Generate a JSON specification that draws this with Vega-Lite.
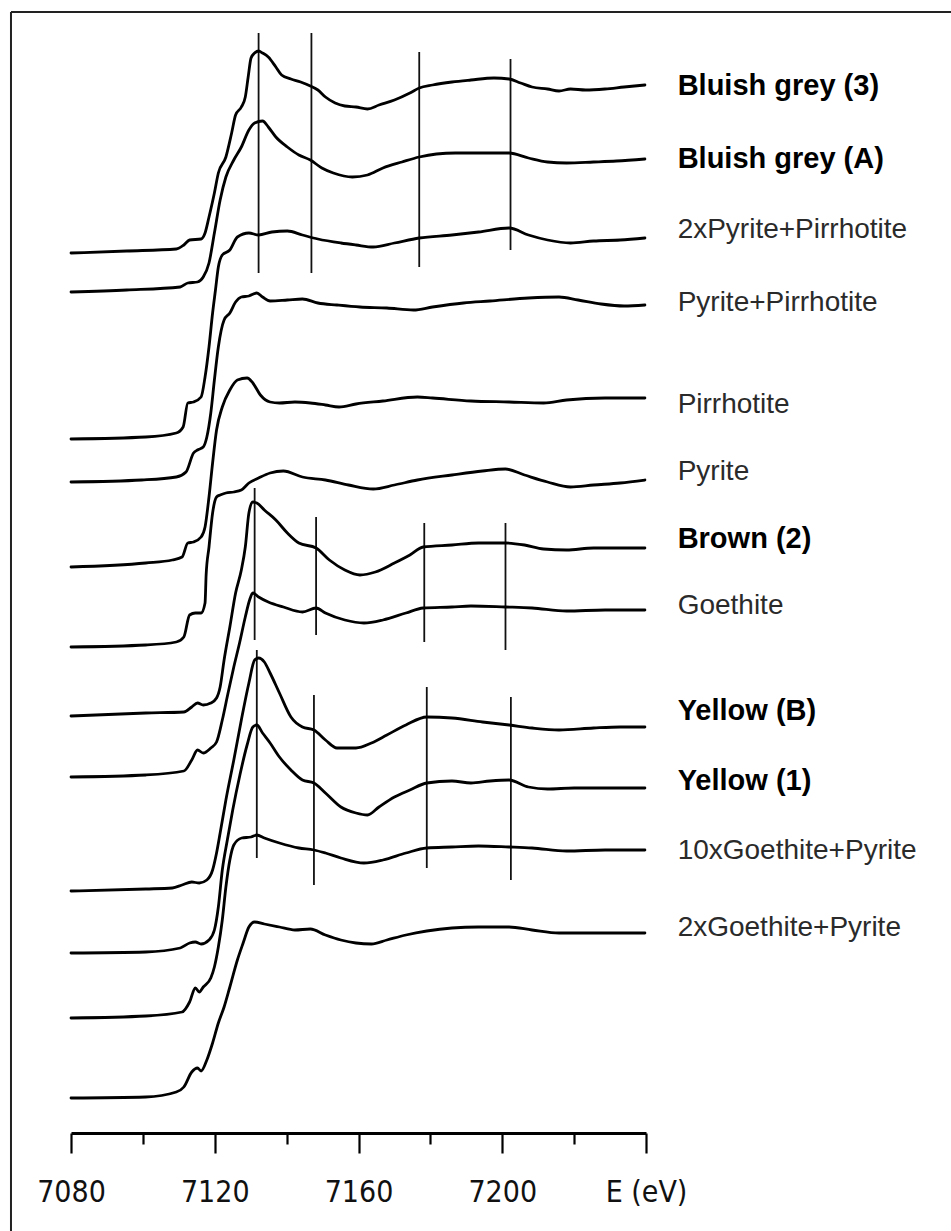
{
  "$schema": "https://vega.github.io/schema/vega-lite/v6.json",
  "autosize": {"type": "none"},
  "width": 575,
  "height": 1100,
  "padding": {"left": 71, "top": 33, "right": 305, "bottom": 98},
  "background": "white",
  "config": {"view": {"stroke": null}},
  "datasets": {
    "curves": [
      {"s":"BG3","E":7080.0,"A":8.80},{"s":"BG3","E":7095.5,"A":8.82},{"s":"BG3","E":7109.3,"A":8.84},{"s":"BG3","E":7111.4,"A":8.88},{"s":"BG3","E":7113.0,"A":8.93},{"s":"BG3","E":7116.2,"A":8.94},{"s":"BG3","E":7117.3,"A":9.00},{"s":"BG3","E":7118.4,"A":9.16},{"s":"BG3","E":7119.9,"A":9.40},{"s":"BG3","E":7121.0,"A":9.60},{"s":"BG3","E":7123.1,"A":9.76},{"s":"BG3","E":7124.7,"A":10.00},{"s":"BG3","E":7125.8,"A":10.18},{"s":"BG3","E":7127.4,"A":10.26},{"s":"BG3","E":7128.5,"A":10.36},{"s":"BG3","E":7129.3,"A":10.56},{"s":"BG3","E":7130.1,"A":10.75},{"s":"BG3","E":7131.1,"A":10.80},{"s":"BG3","E":7132.2,"A":10.82},{"s":"BG3","E":7133.3,"A":10.80},{"s":"BG3","E":7134.9,"A":10.76},{"s":"BG3","E":7137.0,"A":10.66},{"s":"BG3","E":7138.6,"A":10.58},{"s":"BG3","E":7141.2,"A":10.54},{"s":"BG3","E":7143.9,"A":10.51},{"s":"BG3","E":7146.6,"A":10.47},{"s":"BG3","E":7148.7,"A":10.43},{"s":"BG3","E":7150.8,"A":10.36},{"s":"BG3","E":7153.5,"A":10.30},{"s":"BG3","E":7156.2,"A":10.27},{"s":"BG3","E":7159.3,"A":10.26},{"s":"BG3","E":7162.5,"A":10.24},{"s":"BG3","E":7165.7,"A":10.28},{"s":"BG3","E":7170.0,"A":10.33},{"s":"BG3","E":7174.3,"A":10.40},{"s":"BG3","E":7176.9,"A":10.45},{"s":"BG3","E":7180.6,"A":10.48},{"s":"BG3","E":7186.0,"A":10.51},{"s":"BG3","E":7191.3,"A":10.53},{"s":"BG3","E":7197.7,"A":10.55},{"s":"BG3","E":7201.9,"A":10.54},{"s":"BG3","E":7205.1,"A":10.50},{"s":"BG3","E":7208.3,"A":10.46},{"s":"BG3","E":7212.6,"A":10.44},{"s":"BG3","E":7215.8,"A":10.42},{"s":"BG3","E":7219.0,"A":10.44},{"s":"BG3","E":7223.2,"A":10.43},{"s":"BG3","E":7228.6,"A":10.44},{"s":"BG3","E":7233.9,"A":10.46},{"s":"BG3","E":7239.7,"A":10.48},
      {"s":"BGA","E":7080.0,"A":8.41},{"s":"BGA","E":7095.5,"A":8.43},{"s":"BGA","E":7110.4,"A":8.46},{"s":"BGA","E":7112.5,"A":8.50},{"s":"BGA","E":7115.2,"A":8.51},{"s":"BGA","E":7116.8,"A":8.56},{"s":"BGA","E":7118.4,"A":8.70},{"s":"BGA","E":7119.9,"A":9.00},{"s":"BGA","E":7121.5,"A":9.33},{"s":"BGA","E":7123.1,"A":9.56},{"s":"BGA","E":7125.3,"A":9.73},{"s":"BGA","E":7127.4,"A":9.86},{"s":"BGA","E":7129.5,"A":10.03},{"s":"BGA","E":7131.1,"A":10.10},{"s":"BGA","E":7133.3,"A":10.12},{"s":"BGA","E":7134.9,"A":10.06},{"s":"BGA","E":7137.0,"A":9.96},{"s":"BGA","E":7140.2,"A":9.86},{"s":"BGA","E":7143.4,"A":9.78},{"s":"BGA","E":7146.6,"A":9.73},{"s":"BGA","E":7149.8,"A":9.65},{"s":"BGA","E":7153.0,"A":9.60},{"s":"BGA","E":7158.3,"A":9.56},{"s":"BGA","E":7162.5,"A":9.58},{"s":"BGA","E":7166.8,"A":9.65},{"s":"BGA","E":7172.1,"A":9.71},{"s":"BGA","E":7176.9,"A":9.76},{"s":"BGA","E":7181.7,"A":9.79},{"s":"BGA","E":7187.0,"A":9.80},{"s":"BGA","E":7193.4,"A":9.80},{"s":"BGA","E":7201.9,"A":9.80},{"s":"BGA","E":7207.3,"A":9.75},{"s":"BGA","E":7212.6,"A":9.71},{"s":"BGA","E":7217.9,"A":9.70},{"s":"BGA","E":7225.4,"A":9.71},{"s":"BGA","E":7231.8,"A":9.72},{"s":"BGA","E":7239.7,"A":9.74},
      {"s":"P2PI","E":7080.0,"A":6.94},{"s":"P2PI","E":7100.8,"A":6.96},{"s":"P2PI","E":7109.3,"A":7.00},{"s":"P2PI","E":7111.2,"A":7.06},{"s":"P2PI","E":7112.5,"A":7.30},{"s":"P2PI","E":7114.1,"A":7.31},{"s":"P2PI","E":7116.2,"A":7.36},{"s":"P2PI","E":7117.3,"A":7.56},{"s":"P2PI","E":7118.4,"A":7.86},{"s":"P2PI","E":7119.4,"A":8.20},{"s":"P2PI","E":7120.2,"A":8.43},{"s":"P2PI","E":7121.0,"A":8.66},{"s":"P2PI","E":7122.1,"A":8.78},{"s":"P2PI","E":7124.2,"A":8.83},{"s":"P2PI","E":7126.3,"A":8.96},{"s":"P2PI","E":7129.5,"A":9.00},{"s":"P2PI","E":7132.2,"A":8.98},{"s":"P2PI","E":7135.9,"A":9.01},{"s":"P2PI","E":7140.2,"A":9.02},{"s":"P2PI","E":7144.4,"A":8.98},{"s":"P2PI","E":7148.7,"A":8.94},{"s":"P2PI","E":7155.1,"A":8.90},{"s":"P2PI","E":7159.3,"A":8.88},{"s":"P2PI","E":7164.1,"A":8.86},{"s":"P2PI","E":7170.0,"A":8.90},{"s":"P2PI","E":7176.9,"A":8.95},{"s":"P2PI","E":7186.0,"A":8.98},{"s":"P2PI","E":7193.4,"A":9.01},{"s":"P2PI","E":7201.9,"A":9.05},{"s":"P2PI","E":7207.3,"A":8.98},{"s":"P2PI","E":7212.6,"A":8.93},{"s":"P2PI","E":7219.0,"A":8.90},{"s":"P2PI","E":7225.4,"A":8.92},{"s":"P2PI","E":7232.8,"A":8.93},{"s":"P2PI","E":7239.7,"A":8.95},
      {"s":"PPI","E":7080.0,"A":6.51},{"s":"PPI","E":7099.7,"A":6.53},{"s":"PPI","E":7109.3,"A":6.56},{"s":"PPI","E":7112.0,"A":6.61},{"s":"PPI","E":7114.1,"A":6.80},{"s":"PPI","E":7115.2,"A":6.83},{"s":"PPI","E":7116.8,"A":6.86},{"s":"PPI","E":7117.8,"A":6.96},{"s":"PPI","E":7118.9,"A":7.20},{"s":"PPI","E":7119.9,"A":7.53},{"s":"PPI","E":7121.0,"A":7.86},{"s":"PPI","E":7122.6,"A":8.13},{"s":"PPI","E":7124.2,"A":8.20},{"s":"PPI","E":7125.8,"A":8.31},{"s":"PPI","E":7127.4,"A":8.36},{"s":"PPI","E":7129.5,"A":8.37},{"s":"PPI","E":7131.7,"A":8.40},{"s":"PPI","E":7133.3,"A":8.36},{"s":"PPI","E":7135.4,"A":8.32},{"s":"PPI","E":7140.2,"A":8.33},{"s":"PPI","E":7144.4,"A":8.34},{"s":"PPI","E":7148.7,"A":8.30},{"s":"PPI","E":7154.0,"A":8.28},{"s":"PPI","E":7160.4,"A":8.26},{"s":"PPI","E":7167.9,"A":8.25},{"s":"PPI","E":7175.3,"A":8.23},{"s":"PPI","E":7180.6,"A":8.26},{"s":"PPI","E":7189.2,"A":8.30},{"s":"PPI","E":7196.6,"A":8.32},{"s":"PPI","E":7207.3,"A":8.35},{"s":"PPI","E":7215.8,"A":8.36},{"s":"PPI","E":7221.1,"A":8.33},{"s":"PPI","E":7227.5,"A":8.29},{"s":"PPI","E":7233.9,"A":8.27},{"s":"PPI","E":7239.7,"A":8.28},
      {"s":"PI","E":7080.0,"A":5.66},{"s":"PI","E":7100.8,"A":5.70},{"s":"PI","E":7108.2,"A":5.73},{"s":"PI","E":7110.9,"A":5.76},{"s":"PI","E":7112.5,"A":5.90},{"s":"PI","E":7114.1,"A":5.91},{"s":"PI","E":7116.2,"A":5.96},{"s":"PI","E":7117.3,"A":6.06},{"s":"PI","E":7118.4,"A":6.36},{"s":"PI","E":7119.4,"A":6.70},{"s":"PI","E":7120.5,"A":7.03},{"s":"PI","E":7122.1,"A":7.26},{"s":"PI","E":7124.2,"A":7.43},{"s":"PI","E":7126.3,"A":7.53},{"s":"PI","E":7129.0,"A":7.55},{"s":"PI","E":7130.6,"A":7.50},{"s":"PI","E":7132.7,"A":7.38},{"s":"PI","E":7135.4,"A":7.31},{"s":"PI","E":7138.0,"A":7.30},{"s":"PI","E":7142.3,"A":7.31},{"s":"PI","E":7146.6,"A":7.30},{"s":"PI","E":7150.8,"A":7.28},{"s":"PI","E":7154.6,"A":7.26},{"s":"PI","E":7159.3,"A":7.29},{"s":"PI","E":7166.8,"A":7.32},{"s":"PI","E":7176.4,"A":7.36},{"s":"PI","E":7180.6,"A":7.35},{"s":"PI","E":7191.3,"A":7.32},{"s":"PI","E":7201.9,"A":7.31},{"s":"PI","E":7211.5,"A":7.30},{"s":"PI","E":7217.9,"A":7.33},{"s":"PI","E":7228.6,"A":7.35},{"s":"PI","E":7239.7,"A":7.35},
      {"s":"PY","E":7080.0,"A":4.86},{"s":"PY","E":7100.8,"A":4.88},{"s":"PY","E":7109.3,"A":4.91},{"s":"PY","E":7111.4,"A":4.96},{"s":"PY","E":7113.0,"A":5.18},{"s":"PY","E":7114.6,"A":5.20},{"s":"PY","E":7116.2,"A":5.20},{"s":"PY","E":7117.3,"A":5.30},{"s":"PY","E":7117.6,"A":5.58},{"s":"PY","E":7118.4,"A":5.86},{"s":"PY","E":7119.4,"A":6.20},{"s":"PY","E":7120.5,"A":6.36},{"s":"PY","E":7121.5,"A":6.38},{"s":"PY","E":7123.1,"A":6.40},{"s":"PY","E":7125.3,"A":6.41},{"s":"PY","E":7127.4,"A":6.43},{"s":"PY","E":7129.5,"A":6.50},{"s":"PY","E":7132.2,"A":6.55},{"s":"PY","E":7135.4,"A":6.60},{"s":"PY","E":7139.1,"A":6.62},{"s":"PY","E":7144.4,"A":6.56},{"s":"PY","E":7150.8,"A":6.53},{"s":"PY","E":7157.2,"A":6.48},{"s":"PY","E":7164.1,"A":6.44},{"s":"PY","E":7170.0,"A":6.48},{"s":"PY","E":7176.4,"A":6.53},{"s":"PY","E":7186.0,"A":6.58},{"s":"PY","E":7194.5,"A":6.62},{"s":"PY","E":7200.9,"A":6.64},{"s":"PY","E":7206.2,"A":6.58},{"s":"PY","E":7212.6,"A":6.51},{"s":"PY","E":7219.0,"A":6.46},{"s":"PY","E":7225.4,"A":6.48},{"s":"PY","E":7232.8,"A":6.50},{"s":"PY","E":7239.7,"A":6.53},
      {"s":"BR2","E":7080.0,"A":4.17},{"s":"BR2","E":7100.8,"A":4.20},{"s":"BR2","E":7111.4,"A":4.21},{"s":"BR2","E":7113.6,"A":4.26},{"s":"BR2","E":7115.2,"A":4.30},{"s":"BR2","E":7116.8,"A":4.28},{"s":"BR2","E":7118.9,"A":4.30},{"s":"BR2","E":7120.5,"A":4.35},{"s":"BR2","E":7121.5,"A":4.46},{"s":"BR2","E":7122.6,"A":4.73},{"s":"BR2","E":7124.2,"A":5.06},{"s":"BR2","E":7125.8,"A":5.40},{"s":"BR2","E":7127.4,"A":5.63},{"s":"BR2","E":7128.5,"A":5.86},{"s":"BR2","E":7129.5,"A":6.20},{"s":"BR2","E":7130.6,"A":6.31},{"s":"BR2","E":7131.7,"A":6.30},{"s":"BR2","E":7133.8,"A":6.23},{"s":"BR2","E":7137.0,"A":6.13},{"s":"BR2","E":7140.2,"A":6.00},{"s":"BR2","E":7143.4,"A":5.90},{"s":"BR2","E":7148.2,"A":5.85},{"s":"BR2","E":7151.9,"A":5.73},{"s":"BR2","E":7156.2,"A":5.63},{"s":"BR2","E":7160.4,"A":5.58},{"s":"BR2","E":7164.7,"A":5.61},{"s":"BR2","E":7170.0,"A":5.70},{"s":"BR2","E":7174.3,"A":5.78},{"s":"BR2","E":7178.0,"A":5.86},{"s":"BR2","E":7186.0,"A":5.88},{"s":"BR2","E":7193.4,"A":5.90},{"s":"BR2","E":7200.9,"A":5.90},{"s":"BR2","E":7206.2,"A":5.88},{"s":"BR2","E":7211.5,"A":5.84},{"s":"BR2","E":7217.9,"A":5.83},{"s":"BR2","E":7225.4,"A":5.85},{"s":"BR2","E":7232.8,"A":5.85},{"s":"BR2","E":7239.7,"A":5.85},
      {"s":"GO","E":7080.0,"A":3.56},{"s":"GO","E":7100.8,"A":3.58},{"s":"GO","E":7111.4,"A":3.62},{"s":"GO","E":7113.6,"A":3.73},{"s":"GO","E":7115.2,"A":3.83},{"s":"GO","E":7116.8,"A":3.80},{"s":"GO","E":7118.9,"A":3.85},{"s":"GO","E":7120.5,"A":3.91},{"s":"GO","E":7122.1,"A":4.13},{"s":"GO","E":7123.7,"A":4.40},{"s":"GO","E":7125.3,"A":4.66},{"s":"GO","E":7126.9,"A":4.90},{"s":"GO","E":7128.5,"A":5.16},{"s":"GO","E":7129.7,"A":5.33},{"s":"GO","E":7130.6,"A":5.40},{"s":"GO","E":7132.2,"A":5.36},{"s":"GO","E":7134.9,"A":5.31},{"s":"GO","E":7139.1,"A":5.26},{"s":"GO","E":7144.4,"A":5.21},{"s":"GO","E":7148.2,"A":5.25},{"s":"GO","E":7150.8,"A":5.20},{"s":"GO","E":7156.2,"A":5.13},{"s":"GO","E":7161.5,"A":5.10},{"s":"GO","E":7166.8,"A":5.13},{"s":"GO","E":7173.2,"A":5.20},{"s":"GO","E":7178.0,"A":5.25},{"s":"GO","E":7186.0,"A":5.26},{"s":"GO","E":7191.3,"A":5.27},{"s":"GO","E":7200.9,"A":5.26},{"s":"GO","E":7208.3,"A":5.25},{"s":"GO","E":7217.9,"A":5.22},{"s":"GO","E":7228.6,"A":5.23},{"s":"GO","E":7239.7,"A":5.23},
      {"s":"YB","E":7080.0,"A":2.42},{"s":"YB","E":7100.8,"A":2.44},{"s":"YB","E":7108.2,"A":2.45},{"s":"YB","E":7110.9,"A":2.48},{"s":"YB","E":7113.6,"A":2.51},{"s":"YB","E":7115.7,"A":2.50},{"s":"YB","E":7117.8,"A":2.53},{"s":"YB","E":7119.4,"A":2.63},{"s":"YB","E":7120.5,"A":2.80},{"s":"YB","E":7121.5,"A":3.00},{"s":"YB","E":7123.1,"A":3.33},{"s":"YB","E":7125.3,"A":3.73},{"s":"YB","E":7127.4,"A":4.13},{"s":"YB","E":7129.5,"A":4.50},{"s":"YB","E":7131.1,"A":4.73},{"s":"YB","E":7132.2,"A":4.75},{"s":"YB","E":7133.8,"A":4.71},{"s":"YB","E":7135.4,"A":4.60},{"s":"YB","E":7138.0,"A":4.40},{"s":"YB","E":7141.2,"A":4.16},{"s":"YB","E":7144.4,"A":4.06},{"s":"YB","E":7147.6,"A":4.03},{"s":"YB","E":7150.8,"A":3.93},{"s":"YB","E":7154.0,"A":3.85},{"s":"YB","E":7159.3,"A":3.85},{"s":"YB","E":7163.6,"A":3.90},{"s":"YB","E":7167.9,"A":3.98},{"s":"YB","E":7173.2,"A":4.08},{"s":"YB","E":7179.0,"A":4.16},{"s":"YB","E":7186.0,"A":4.15},{"s":"YB","E":7194.5,"A":4.11},{"s":"YB","E":7201.9,"A":4.08},{"s":"YB","E":7208.3,"A":4.05},{"s":"YB","E":7215.8,"A":4.03},{"s":"YB","E":7225.4,"A":4.05},{"s":"YB","E":7232.8,"A":4.06},{"s":"YB","E":7239.7,"A":4.06},
      {"s":"Y1","E":7080.0,"A":1.80},{"s":"Y1","E":7100.8,"A":1.81},{"s":"Y1","E":7110.4,"A":1.85},{"s":"Y1","E":7113.0,"A":1.90},{"s":"Y1","E":7114.6,"A":1.91},{"s":"Y1","E":7116.2,"A":1.89},{"s":"Y1","E":7118.4,"A":1.93},{"s":"Y1","E":7119.9,"A":2.03},{"s":"Y1","E":7121.0,"A":2.26},{"s":"Y1","E":7122.1,"A":2.63},{"s":"Y1","E":7123.5,"A":2.93},{"s":"Y1","E":7125.0,"A":3.23},{"s":"Y1","E":7127.0,"A":3.58},{"s":"Y1","E":7129.0,"A":3.88},{"s":"Y1","E":7130.6,"A":4.06},{"s":"Y1","E":7131.7,"A":4.08},{"s":"Y1","E":7133.3,"A":4.00},{"s":"Y1","E":7135.4,"A":3.90},{"s":"Y1","E":7138.0,"A":3.76},{"s":"Y1","E":7141.2,"A":3.63},{"s":"Y1","E":7144.4,"A":3.53},{"s":"Y1","E":7147.6,"A":3.50},{"s":"Y1","E":7150.8,"A":3.40},{"s":"Y1","E":7155.1,"A":3.26},{"s":"Y1","E":7159.3,"A":3.20},{"s":"Y1","E":7162.5,"A":3.18},{"s":"Y1","E":7165.7,"A":3.26},{"s":"Y1","E":7170.0,"A":3.36},{"s":"Y1","E":7174.3,"A":3.43},{"s":"Y1","E":7179.0,"A":3.50},{"s":"Y1","E":7186.0,"A":3.52},{"s":"Y1","E":7191.3,"A":3.50},{"s":"Y1","E":7196.6,"A":3.52},{"s":"Y1","E":7201.9,"A":3.53},{"s":"Y1","E":7207.3,"A":3.46},{"s":"Y1","E":7212.6,"A":3.44},{"s":"Y1","E":7220.0,"A":3.45},{"s":"Y1","E":7228.6,"A":3.45},{"s":"Y1","E":7239.7,"A":3.45},
      {"s":"G10P","E":7080.0,"A":1.15},{"s":"G10P","E":7100.8,"A":1.17},{"s":"G10P","E":7110.9,"A":1.21},{"s":"G10P","E":7113.0,"A":1.31},{"s":"G10P","E":7114.6,"A":1.45},{"s":"G10P","E":7115.7,"A":1.41},{"s":"G10P","E":7116.8,"A":1.46},{"s":"G10P","E":7118.9,"A":1.55},{"s":"G10P","E":7119.9,"A":1.66},{"s":"G10P","E":7121.0,"A":1.86},{"s":"G10P","E":7122.1,"A":2.13},{"s":"G10P","E":7123.1,"A":2.46},{"s":"G10P","E":7124.2,"A":2.73},{"s":"G10P","E":7125.3,"A":2.88},{"s":"G10P","E":7127.5,"A":2.95},{"s":"G10P","E":7130.1,"A":2.96},{"s":"G10P","E":7131.7,"A":2.98},{"s":"G10P","E":7133.8,"A":2.95},{"s":"G10P","E":7138.0,"A":2.90},{"s":"G10P","E":7143.4,"A":2.85},{"s":"G10P","E":7147.6,"A":2.83},{"s":"G10P","E":7150.8,"A":2.80},{"s":"G10P","E":7155.1,"A":2.75},{"s":"G10P","E":7161.5,"A":2.70},{"s":"G10P","E":7166.8,"A":2.73},{"s":"G10P","E":7173.2,"A":2.80},{"s":"G10P","E":7179.0,"A":2.85},{"s":"G10P","E":7186.0,"A":2.86},{"s":"G10P","E":7193.4,"A":2.87},{"s":"G10P","E":7201.9,"A":2.86},{"s":"G10P","E":7208.3,"A":2.85},{"s":"G10P","E":7217.9,"A":2.82},{"s":"G10P","E":7228.6,"A":2.83},{"s":"G10P","E":7239.7,"A":2.83},
      {"s":"G2P","E":7080.0,"A":0.35},{"s":"G2P","E":7100.8,"A":0.36},{"s":"G2P","E":7109.3,"A":0.41},{"s":"G2P","E":7111.4,"A":0.46},{"s":"G2P","E":7113.6,"A":0.61},{"s":"G2P","E":7115.2,"A":0.65},{"s":"G2P","E":7116.2,"A":0.62},{"s":"G2P","E":7117.8,"A":0.73},{"s":"G2P","E":7119.4,"A":0.90},{"s":"G2P","E":7121.0,"A":1.10},{"s":"G2P","E":7122.6,"A":1.26},{"s":"G2P","E":7124.2,"A":1.46},{"s":"G2P","E":7126.3,"A":1.73},{"s":"G2P","E":7127.9,"A":1.90},{"s":"G2P","E":7129.5,"A":2.06},{"s":"G2P","E":7131.1,"A":2.11},{"s":"G2P","E":7133.8,"A":2.09},{"s":"G2P","E":7138.0,"A":2.06},{"s":"G2P","E":7142.3,"A":2.03},{"s":"G2P","E":7146.6,"A":2.04},{"s":"G2P","E":7150.8,"A":1.98},{"s":"G2P","E":7155.1,"A":1.93},{"s":"G2P","E":7159.3,"A":1.90},{"s":"G2P","E":7163.6,"A":1.89},{"s":"G2P","E":7167.9,"A":1.93},{"s":"G2P","E":7173.2,"A":1.98},{"s":"G2P","E":7179.0,"A":2.02},{"s":"G2P","E":7186.0,"A":2.05},{"s":"G2P","E":7193.4,"A":2.06},{"s":"G2P","E":7201.9,"A":2.06},{"s":"G2P","E":7208.3,"A":2.03},{"s":"G2P","E":7215.8,"A":2.00},{"s":"G2P","E":7225.4,"A":2.00},{"s":"G2P","E":7239.7,"A":2.00}
    ],
    "marks": [
      {"E":7132.2,"lo":8.60,"hi":11.0},{"E":7146.9,"lo":8.60,"hi":11.0},{"E":7176.9,"lo":8.66,"hi":10.81},{"E":7202.3,"lo":8.83,"hi":10.74},
      {"E":7131.1,"lo":4.93,"hi":6.45},{"E":7148.2,"lo":4.98,"hi":6.16},{"E":7178.3,"lo":4.91,"hi":6.10},{"E":7200.9,"lo":4.83,"hi":6.10},
      {"E":7131.7,"lo":2.75,"hi":4.83},{"E":7147.6,"lo":2.48,"hi":4.38},{"E":7179.0,"lo":2.65,"hi":4.46},{"E":7202.4,"lo":2.53,"hi":4.36}
    ],
    "labels": [
      {"label":"Bluish grey (3)","A":10.47,"w":"bold"},
      {"label":"Bluish grey (A)","A":9.74,"w":"bold"},
      {"label":"2xPyrite+Pirrhotite","A":9.03,"w":"normal"},
      {"label":"Pyrite+Pirrhotite","A":8.30,"w":"normal"},
      {"label":"Pirrhotite","A":7.28,"w":"normal"},
      {"label":"Pyrite","A":6.61,"w":"normal"},
      {"label":"Brown (2)","A":5.94,"w":"bold"},
      {"label":"Goethite","A":5.27,"w":"normal"},
      {"label":"Yellow (B)","A":4.22,"w":"bold"},
      {"label":"Yellow (1)","A":3.52,"w":"bold"},
      {"label":"10xGoethite+Pyrite","A":2.82,"w":"normal"},
      {"label":"2xGoethite+Pyrite","A":2.05,"w":"normal"}
    ]
  },
  "layer": [
    {
      "data": {"name": "marks"},
      "mark": {"type": "rule", "color": "#111111", "strokeWidth": 1.8},
      "encoding": {
        "x": {"field": "E", "type": "quantitative", "scale": {"domain": [7080, 7240], "nice": false, "zero": false},
          "axis": {
            "values": [7080, 7100, 7120, 7140, 7160, 7180, 7200, 7220, 7240],
            "title": null, "grid": false, "orient": "bottom",
            "domainColor": "#000000", "domainWidth": 3,
            "tickColor": "#000000", "tickWidth": 2.2,
            "tickSize": {"condition": {"test": "datum.value % 40 === 0", "value": 20}, "value": 11},
            "labelExpr": "datum.value == 7240 ? 'E (eV)' : (datum.value % 40 == 0 ? format(datum.value, 'd') : '')",
            "labelOverlap": false, "labelFont": "'Liberation Sans Narrow', 'DejaVu Sans Condensed', 'Liberation Sans', sans-serif", "labelFontSize": 30,
            "labelColor": "#111111", "labelPadding": 24, "labelDx": 6, "labelFlush": false
          }},
        "y": {"field": "lo", "type": "quantitative", "scale": {"domain": [0, 11], "nice": false, "zero": false}, "axis": null},
        "y2": {"field": "hi"}
      }
    },
    {
      "data": {"name": "curves"},
      "mark": {"type": "line", "color": "#000000", "strokeWidth": 2.8, "strokeJoin": "round", "strokeCap": "round", "interpolate": "monotone"},
      "encoding": {
        "x": {"field": "E", "type": "quantitative"},
        "y": {"field": "A", "type": "quantitative"},
        "detail": {"field": "s"}
      }
    },
    {
      "data": {"name": "labels"},
      "transform": [{"filter": "datum.w == 'bold'"}],
      "mark": {"type": "text", "align": "left", "baseline": "middle", "font": "Liberation Sans", "fontSize": 29, "fontWeight": "bold", "color": "#000000", "clip": false},
      "encoding": {
        "x": {"datum": 7248.8, "type": "quantitative"},
        "y": {"field": "A", "type": "quantitative"},
        "text": {"field": "label"}
      }
    },
    {
      "data": {"name": "labels"},
      "transform": [{"filter": "datum.w != 'bold'"}],
      "mark": {"type": "text", "align": "left", "baseline": "middle", "font": "Liberation Sans", "fontSize": 28, "fontWeight": "normal", "color": "#2a2a2a", "clip": false},
      "encoding": {
        "x": {"datum": 7248.8, "type": "quantitative"},
        "y": {"field": "A", "type": "quantitative"},
        "text": {"field": "label"}
      }
    },
    {
      "data": {"values": [{}]},
      "mark": {"type": "rule", "color": "#222222", "strokeWidth": 2, "clip": false},
      "encoding": {
        "x": {"datum": 7063.3, "type": "quantitative"},
        "y": {"datum": 11.21, "type": "quantitative"},
        "y2": {"datum": -1.5}
      }
    },
    {
      "data": {"values": [{}]},
      "mark": {"type": "rule", "color": "#222222", "strokeWidth": 2, "clip": false},
      "encoding": {
        "x": {"datum": 7063.3, "type": "quantitative"},
        "x2": {"datum": 7340},
        "y": {"datum": 11.21, "type": "quantitative"}
      }
    }
  ]
}
